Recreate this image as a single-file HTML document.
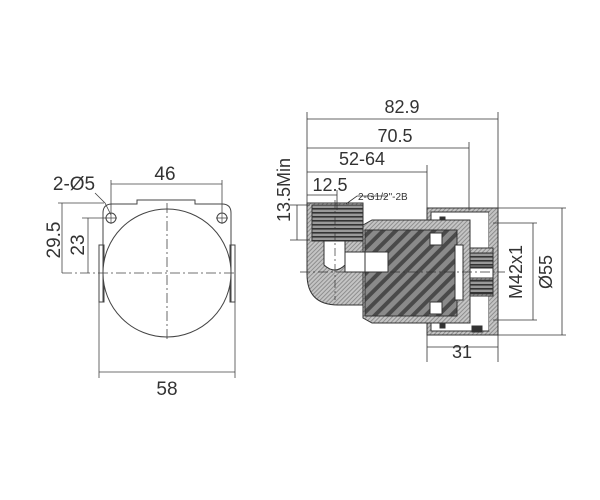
<!DOCTYPE html>
<html><head><meta charset="utf-8"><style>html,body{margin:0;padding:0;background:#fff}svg{display:block}</style></head>
<body>
<svg width="600" height="500" viewBox="0 0 600 500" xmlns="http://www.w3.org/2000/svg" font-family="Liberation Sans, sans-serif" fill="none" stroke="#333" stroke-width="1">
<defs>
<pattern id="dk" width="9" height="9" patternUnits="userSpaceOnUse" patternTransform="rotate(45)">
<rect width="9" height="9" fill="#8a8a8a" stroke="none"/><rect width="4" height="9" fill="#4a4a4a" stroke="none"/></pattern>
<pattern id="lt" width="3" height="3" patternUnits="userSpaceOnUse" patternTransform="rotate(45)">
<rect width="3" height="3" fill="#c4c4c4" stroke="none"/><rect width="1" height="3" fill="#8e8e8e" stroke="none"/></pattern>
<pattern id="th" width="4" height="4" patternUnits="userSpaceOnUse">
<rect width="4" height="4" fill="#999" stroke="none"/><rect width="4" height="1.6" fill="#333" stroke="none"/></pattern>
</defs>

<!-- LEFT VIEW -->
<g stroke="#444">
<path d="M103 302 V213 Q103 204 112 204 H137 V200 H195 V204 H222 Q231 204 231 213 V302"/>
<rect x="99" y="245" width="5" height="57"/>
<rect x="230" y="245" width="5" height="57"/>
<circle cx="167" cy="273" r="64" fill="#fff"/>
<circle cx="111" cy="218" r="5"/><circle cx="222" cy="218" r="5"/>
<path d="M105 218h12M111 212v12M216 218h12M222 212v12" stroke-width="0.7"/>
<path d="M62 273H237M167 203V342" stroke-dasharray="10 3 2 3" stroke-width="0.8"/>
<path d="M111 212V180M222 212V180M111 184H222" stroke-width="0.8"/>
<path d="M99 300V378M235 300V378M99 372H235" stroke-width="0.8"/>
<path d="M58 203H104M62 203V273M82 218H106M88 218V273" stroke-width="0.8"/>
<path d="M95 193L105 203L111 215" stroke-width="0.8"/>
</g>
<g fill="#333" stroke="none" font-size="19">
<text x="165" y="180" text-anchor="middle">46</text>
<text x="74" y="190" text-anchor="middle">2-Ø5</text>
<text x="167" y="395" text-anchor="middle">58</text>
<text transform="translate(60 240) rotate(-90)" text-anchor="middle">29.5</text>
<text transform="translate(84 245) rotate(-90)" text-anchor="middle">23</text>
</g>

<!-- RIGHT VIEW -->
<g stroke="#333">
<rect x="427" y="208" width="71" height="127" fill="url(#lt)"/>
<rect x="431" y="212" width="58" height="119" fill="#fff"/>
<rect x="489" y="212" width="5" height="119" fill="url(#lt)" stroke="none"/>
<rect x="465" y="248" width="28" height="48" fill="url(#lt)"/>
<rect x="470" y="253" width="23" height="14" fill="url(#th)"/>
<rect x="470" y="280" width="23" height="14" fill="url(#th)"/>
<rect x="470" y="268" width="23" height="10" fill="#fff"/>
<rect x="440" y="217" width="5" height="10" fill="#333"/>
<rect x="440" y="318" width="5" height="10" fill="#333"/>
<rect x="472" y="326" width="10" height="6" fill="#333"/>
<path d="M363 225 L372 220 H470 V323 H372 L363 318 Z" fill="url(#lt)"/>
<rect x="365" y="230" width="92" height="86" fill="url(#dk)"/>
<rect x="430" y="233" width="12" height="12" fill="#fff"/>
<rect x="430" y="302" width="12" height="12" fill="#fff"/>
<rect x="455" y="245" width="8" height="55" fill="#fff"/>
<rect x="365" y="252" width="23" height="20" fill="#fff"/>
<path d="M307 203 H363 V305 H338 Q307 305 307 274 Z" fill="url(#lt)"/>
<rect x="312" y="205" width="51" height="36" fill="url(#th)"/>
<path d="M324 241 H345 V265 Q335 275 324 265 Z" fill="#fff"/>
<rect x="345" y="252" width="20" height="20" fill="#fff"/>
<path d="M300 272 H505" stroke-dasharray="10 3 2 3" stroke-width="0.7"/>
<path d="M335 200 V300" stroke-dasharray="8 3 2 3" stroke-width="0.7"/>
<g stroke-width="0.8">
<path d="M307 203V112M498 208V112M469 210V142M427 208V165M337 210V190"/>
<path d="M307 119H498M307 148H469M307 172H427M307 195H337"/>
<path d="M290 205H310M290 240H310M297 205V240"/>
<path d="M498 208H566M498 335H566M562 208V335"/>
<path d="M493 223H537M493 320H537M533 223V320"/>
<path d="M427 335V362M498 335V362M427 347H498"/>
<path d="M346 204L357 196H388"/>
</g>
</g>
<g fill="#333" stroke="none" font-size="18">
<text x="402" y="113" text-anchor="middle">82.9</text>
<text x="395" y="142" text-anchor="middle">70.5</text>
<text x="362" y="165" text-anchor="middle">52-64</text>
<text x="330" y="191" text-anchor="middle">12.5</text>
<text x="462" y="358" text-anchor="middle">31</text>
<text x="358" y="200" font-size="10">2-G1/2"-2B</text>
<text transform="translate(290 190) rotate(-90)" text-anchor="middle">13.5Min</text>
<text transform="translate(522 272) rotate(-90)" text-anchor="middle">M42x1</text>
<text transform="translate(552 272) rotate(-90)" text-anchor="middle">Ø55</text>
</g>
</svg>
</body></html>
